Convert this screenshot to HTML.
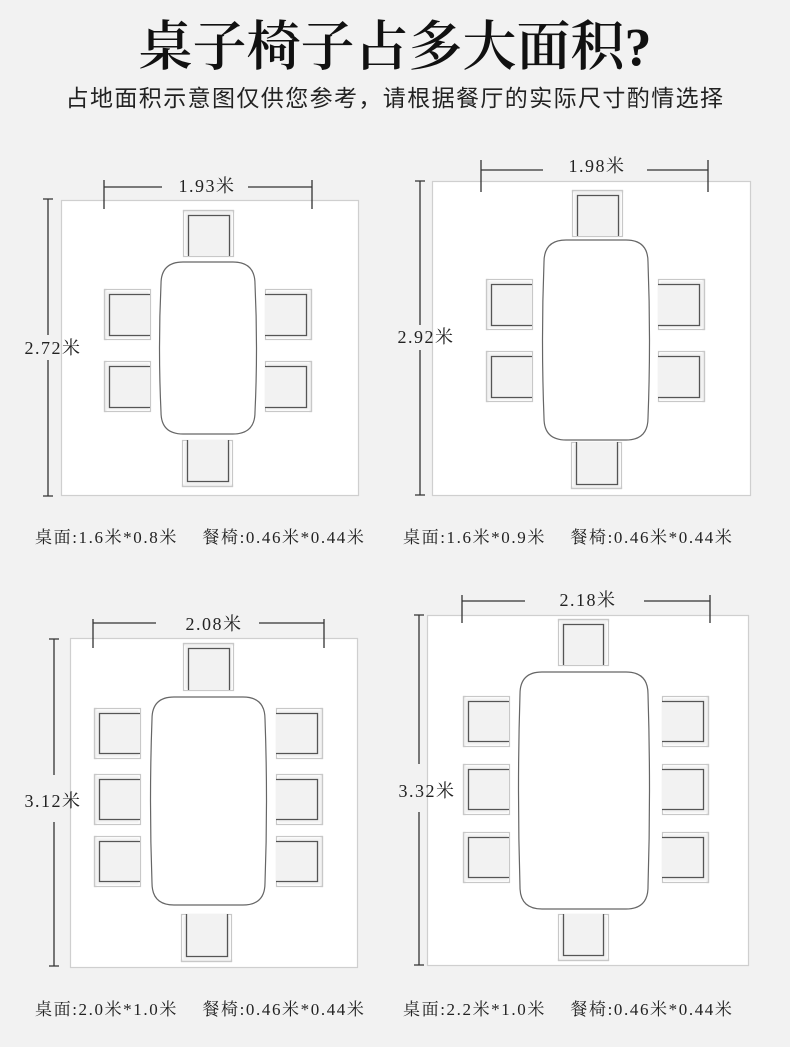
<!DOCTYPE html>
<html><head><meta charset="utf-8"><style>
html,body{margin:0;padding:0;background:#f2f2f2;}
body{width:790px;height:1047px;overflow:hidden;position:relative;}
.t{position:absolute;left:0;width:790px;text-align:center;font-family:"Liberation Serif","Noto Serif CJK SC",serif;color:#111;}
</style></head><body>
<div class="t" style="top:14px;font-size:54px;font-weight:600;letter-spacing:0px;line-height:66px;">桌子椅子占多大面积?</div>
<div class="t" style="top:82px;font-size:23px;line-height:32px;font-family:'Liberation Sans','Noto Sans CJK SC',sans-serif;color:#222;letter-spacing:1.4px;">占地面积示意图仅供您参考，请根据餐厅的实际尺寸酌情选择</div>
<svg width="790" height="1047" style="position:absolute;left:0;top:0" xmlns="http://www.w3.org/2000/svg">
<g fill="#fff" stroke="#cfcfcf" stroke-width="1.2">
<rect x="61.5" y="200.5" width="297" height="295"/>
<rect x="432.5" y="181.5" width="318" height="314"/>
<rect x="70.5" y="638.5" width="287" height="329"/>
<rect x="427.5" y="615.5" width="321" height="350"/>
</g>
<g stroke="#333" stroke-width="1.3" fill="none">
<path d="M104 187H162M248 187H312M104 180V209M312 180V209M43 199H53M48 199V335M48 360V496M43 496H53"/>
<path d="M481 170H543M647 170H708M481 160V192M708 160V192M415 181H425M420 181V325M420 350V495M415 495H425"/>
<path d="M93 623H156M259 623H324M93 619V648M324 619V648M49 639H59M54 639V775M54 822V966M49 966H59"/>
<path d="M462 601H525M644 601H710M462 595V623M710 595V623M414 615H424M419 615V764M419 812V965M414 965H424"/>
</g>
<g font-family="Liberation Serif,Noto Serif CJK SC,serif" font-size="18" fill="#222" text-anchor="middle" letter-spacing="1.5">
<text x="207" y="192">1.93米</text><text x="53" y="354">2.72米</text>
<text x="597" y="172">1.98米</text><text x="426" y="343">2.92米</text>
<text x="214" y="630">2.08米</text><text x="53" y="807">3.12米</text>
<text x="588" y="606">2.18米</text><text x="427" y="797">3.32米</text>
</g>
<g font-family="Liberation Serif,Noto Serif CJK SC,serif" font-size="17" fill="#222" letter-spacing="1.6">
<text x="35" y="543">桌面:1.6米*0.8米　 餐椅:0.46米*0.44米</text>
<text x="403" y="543">桌面:1.6米*0.9米　 餐椅:0.46米*0.44米</text>
<text x="35" y="1015">桌面:2.0米*1.0米　 餐椅:0.46米*0.44米</text>
<text x="403" y="1015">桌面:2.2米*1.0米　 餐椅:0.46米*0.44米</text>
</g>
<g fill="#f2f2f2" stroke="#c8c8c8" stroke-width="1.2">
<rect x="183.5" y="210.5" width="50" height="46"/><rect x="104.5" y="289.5" width="46" height="50"/><rect x="104.5" y="361.5" width="46" height="50"/><rect x="265.5" y="289.5" width="46" height="50"/><rect x="265.5" y="361.5" width="46" height="50"/><rect x="182.5" y="440.5" width="50" height="46"/>
<rect x="572.5" y="190.5" width="50" height="46"/><rect x="486.5" y="279.5" width="46" height="50"/><rect x="486.5" y="351.5" width="46" height="50"/><rect x="658.5" y="279.5" width="46" height="50"/><rect x="658.5" y="351.5" width="46" height="50"/><rect x="571.5" y="442.5" width="50" height="46"/>
<rect x="183.5" y="643.5" width="50" height="47"/><rect x="94.5" y="708.5" width="46" height="50"/><rect x="94.5" y="774.5" width="46" height="50"/><rect x="94.5" y="836.5" width="46" height="50"/><rect x="276.5" y="708.5" width="46" height="50"/><rect x="276.5" y="774.5" width="46" height="50"/><rect x="276.5" y="836.5" width="46" height="50"/><rect x="181.5" y="914.5" width="50" height="47"/>
<rect x="558.5" y="619.5" width="50" height="46"/><rect x="463.5" y="696.5" width="46" height="50"/><rect x="463.5" y="764.5" width="46" height="50"/><rect x="463.5" y="832.5" width="46" height="50"/><rect x="662.5" y="696.5" width="46" height="50"/><rect x="662.5" y="764.5" width="46" height="50"/><rect x="662.5" y="832.5" width="46" height="50"/><rect x="558.5" y="914.5" width="50" height="46"/>
</g>
<g fill="none" stroke="#fff" stroke-width="3.5">
<path d="M183.5 212.5V256.5H233.5V212.5M106.5 289.5H150.5V339.5H106.5M106.5 361.5H150.5V411.5H106.5M309.5 289.5H265.5V339.5H309.5M309.5 361.5H265.5V411.5H309.5M182.5 484.5V440.5H232.5V484.5"/>
<path d="M572.5 192.5V236.5H622.5V192.5M488.5 279.5H532.5V329.5H488.5M488.5 351.5H532.5V401.5H488.5M702.5 279.5H658.5V329.5H702.5M702.5 351.5H658.5V401.5H702.5M571.5 486.5V442.5H621.5V486.5"/>
<path d="M183.5 645.5V690.5H233.5V645.5M96.5 708.5H140.5V758.5H96.5M96.5 774.5H140.5V824.5H96.5M96.5 836.5H140.5V886.5H96.5M320.5 708.5H276.5V758.5H320.5M320.5 774.5H276.5V824.5H320.5M320.5 836.5H276.5V886.5H320.5M181.5 959.5V914.5H231.5V959.5"/>
<path d="M558.5 621.5V665.5H608.5V621.5M465.5 696.5H509.5V746.5H465.5M465.5 764.5H509.5V814.5H465.5M465.5 832.5H509.5V882.5H465.5M706.5 696.5H662.5V746.5H706.5M706.5 764.5H662.5V814.5H706.5M706.5 832.5H662.5V882.5H706.5M558.5 958.5V914.5H608.5V958.5"/>
</g>
<g fill="none" stroke="#c8c8c8" stroke-width="1.2">
<rect x="183.5" y="210.5" width="50" height="46"/><rect x="104.5" y="289.5" width="46" height="50"/><rect x="104.5" y="361.5" width="46" height="50"/><rect x="265.5" y="289.5" width="46" height="50"/><rect x="265.5" y="361.5" width="46" height="50"/><rect x="182.5" y="440.5" width="50" height="46"/>
<rect x="572.5" y="190.5" width="50" height="46"/><rect x="486.5" y="279.5" width="46" height="50"/><rect x="486.5" y="351.5" width="46" height="50"/><rect x="658.5" y="279.5" width="46" height="50"/><rect x="658.5" y="351.5" width="46" height="50"/><rect x="571.5" y="442.5" width="50" height="46"/>
<rect x="183.5" y="643.5" width="50" height="47"/><rect x="94.5" y="708.5" width="46" height="50"/><rect x="94.5" y="774.5" width="46" height="50"/><rect x="94.5" y="836.5" width="46" height="50"/><rect x="276.5" y="708.5" width="46" height="50"/><rect x="276.5" y="774.5" width="46" height="50"/><rect x="276.5" y="836.5" width="46" height="50"/><rect x="181.5" y="914.5" width="50" height="47"/>
<rect x="558.5" y="619.5" width="50" height="46"/><rect x="463.5" y="696.5" width="46" height="50"/><rect x="463.5" y="764.5" width="46" height="50"/><rect x="463.5" y="832.5" width="46" height="50"/><rect x="662.5" y="696.5" width="46" height="50"/><rect x="662.5" y="764.5" width="46" height="50"/><rect x="662.5" y="832.5" width="46" height="50"/><rect x="558.5" y="914.5" width="50" height="46"/>
</g>
<g fill="#f2f2f2" stroke="#555" stroke-width="1.3">
<path d="M188.5 256V215.5H229.5V256"/><path d="M150 294.5H109.5V335.5H150"/><path d="M150 366.5H109.5V407.5H150"/><path d="M265 294.5H306.5V335.5H265"/><path d="M265 366.5H306.5V407.5H265"/><path d="M187.5 440V481.5H228.5V440"/>
<path d="M577.5 236V195.5H618.5V236"/><path d="M532 284.5H491.5V325.5H532"/><path d="M532 356.5H491.5V397.5H532"/><path d="M658 284.5H699.5V325.5H658"/><path d="M658 356.5H699.5V397.5H658"/><path d="M576.5 442V484.5H617.5V442"/>
<path d="M188.5 690V648.5H229.5V690"/><path d="M140 713.5H99.5V753.5H140"/><path d="M140 779.5H99.5V819.5H140"/><path d="M140 841.5H99.5V881.5H140"/><path d="M276 713.5H317.5V753.5H276"/><path d="M276 779.5H317.5V819.5H276"/><path d="M276 841.5H317.5V881.5H276"/><path d="M186.5 914V956.5H227.5V914"/>
<path d="M563.5 665V624.5H603.5V665"/><path d="M509 701.5H468.5V741.5H509"/><path d="M509 769.5H468.5V809.5H509"/><path d="M509 837.5H468.5V877.5H509"/><path d="M662 701.5H703.5V741.5H662"/><path d="M662 769.5H703.5V809.5H662"/><path d="M662 837.5H703.5V877.5H662"/><path d="M563.5 914V955.5H603.5V914"/>
</g>
<g fill="#fff" stroke="#666" stroke-width="1.2">
<path d="M183 262H233Q255 262 255 284Q258 348 255 412Q255 434 233 434H183Q161 434 161 412Q158 348 161 284Q161 262 183 262Z"/>
<path d="M566 240H626Q648 240 648 262Q651 340 648 418Q648 440 626 440H566Q544 440 544 418Q541 340 544 262Q544 240 566 240Z"/>
<path d="M174 697H243Q265 697 265 719Q268 801 265 883Q265 905 243 905H174Q152 905 152 883Q149 801 152 719Q152 697 174 697Z"/>
<path d="M542 672H626Q648 672 648 694Q651 790 648 887Q648 909 626 909H542Q520 909 520 887Q517 790 520 694Q520 672 542 672Z"/>
</g>
</svg>
</body></html>
